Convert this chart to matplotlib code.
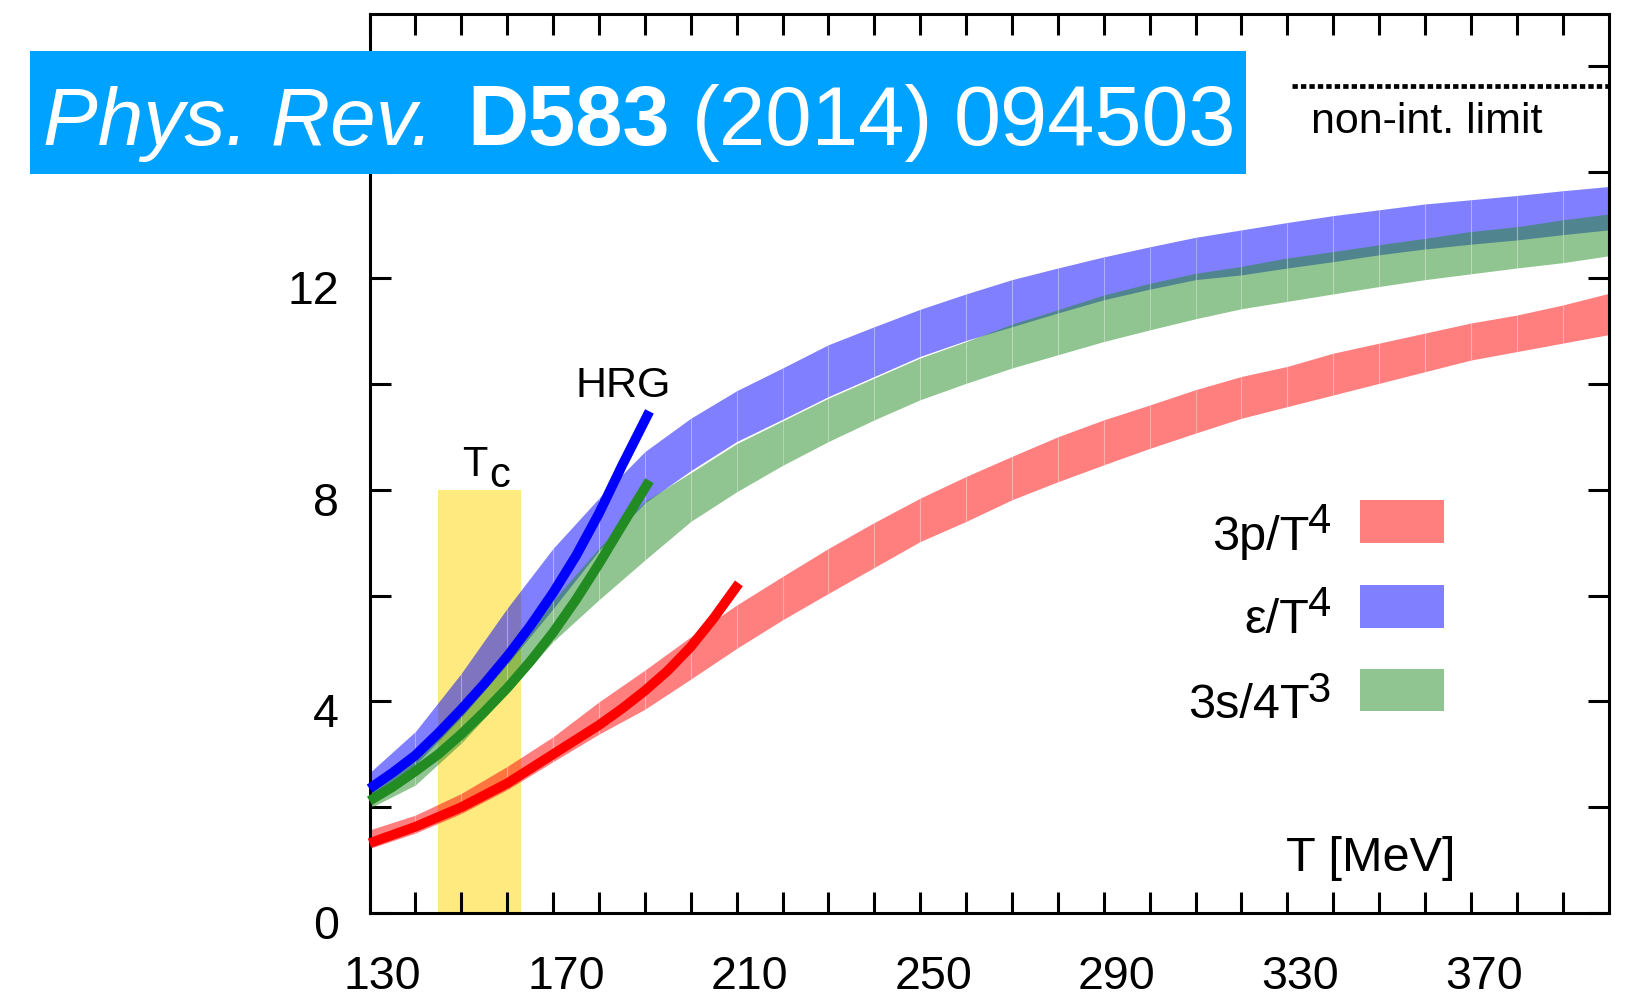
import numpy as np
import matplotlib
matplotlib.use('Agg')
import matplotlib.pyplot as plt
from matplotlib.patches import Rectangle
from matplotlib.transforms import ScaledTranslation

plt.rcParams['font.family'] = ['Liberation Sans', 'DejaVu Sans']

# lattice bands, T in MeV, lower/upper edge of each band
T = [130, 140, 150, 160, 170, 180, 190, 200, 210, 220, 230, 240, 250, 260,
     270, 280, 290, 300, 310, 320, 330, 340, 350, 360, 370, 380, 390, 400]
p3_lo = [1.22, 1.51, 1.88, 2.33, 2.86, 3.38, 3.85, 4.42, 5.00, 5.54, 6.04, 6.53, 7.02, 7.40,
         7.81, 8.15, 8.47, 8.78, 9.07, 9.35, 9.57, 9.79, 10.01, 10.23, 10.45, 10.61, 10.77, 10.93]
p3_hi = [1.57, 1.85, 2.26, 2.77, 3.33, 3.99, 4.59, 5.22, 5.82, 6.36, 6.89, 7.38, 7.84, 8.25,
         8.63, 9.00, 9.32, 9.60, 9.89, 10.14, 10.33, 10.58, 10.77, 10.96, 11.15, 11.30, 11.49, 11.71]
eps_lo = [2.15, 2.80, 3.70, 4.70, 5.75, 6.85, 7.75, 8.36, 8.91, 9.33, 9.76, 10.14, 10.52, 10.82,
          11.08, 11.34, 11.59, 11.79, 11.97, 12.06, 12.19, 12.31, 12.44, 12.55, 12.64, 12.72, 12.82, 12.91]
eps_hi = [2.65, 3.43, 4.53, 5.76, 6.89, 7.84, 8.72, 9.35, 9.87, 10.30, 10.74, 11.08, 11.41, 11.70,
          11.97, 12.19, 12.40, 12.59, 12.77, 12.91, 13.05, 13.18, 13.29, 13.40, 13.48, 13.56, 13.65, 13.73]
s_lo = [1.98, 2.42, 3.21, 4.15, 5.13, 5.92, 6.67, 7.40, 7.96, 8.46, 8.91, 9.32, 9.70, 10.01,
        10.30, 10.55, 10.80, 11.02, 11.23, 11.42, 11.56, 11.70, 11.84, 11.97, 12.08, 12.19, 12.29, 12.42]
s_hi = [2.32, 3.05, 3.95, 4.90, 5.90, 6.90, 7.78, 8.32, 8.87, 9.30, 9.73, 10.11, 10.49, 10.80,
        11.13, 11.40, 11.68, 11.90, 12.09, 12.22, 12.38, 12.50, 12.63, 12.75, 12.88, 12.97, 13.10, 13.21]

# hadron resonance gas curves
T_hrg = [130, 135, 140, 145, 150, 155, 160, 165, 170, 175, 180, 185, 191]
eps_hrg = [2.35, 2.65, 2.98, 3.40, 3.85, 4.33, 4.85, 5.42, 6.05, 6.75, 7.55, 8.45, 9.48]
s_hrg = [2.12, 2.38, 2.68, 3.00, 3.38, 3.80, 4.25, 4.75, 5.30, 5.92, 6.60, 7.32, 8.17]
T_hrg_p = [130, 140, 150, 160, 170, 180, 185, 190, 195, 200, 205, 210.5]
p3_hrg = [1.32, 1.63, 2.00, 2.45, 3.00, 3.55, 3.86, 4.20, 4.58, 5.03, 5.57, 6.23]

tc_lo, tc_hi, tc_top = 145, 163, 8.0
sb_limit = 15.63
sb_start = 331

xtick_vals = list(range(130, 400, 10))
xtick_labels = ['130', '', '', '', '170', '', '', '', '210', '', '', '', '250', '', '', '',
                '290', '', '', '', '330', '', '', '', '370', '', '']
ytick_vals = [0, 2, 4, 6, 8, 10, 12, 14, 16]
ytick_labels = ['0', '', '4', '', '8', '', '12', '', '']

W, H = 1625, 1000
fig = plt.figure(figsize=(W / 100, H / 100), dpi=100)
ax = fig.add_axes([369.5 / W, 1 - 913 / H, 1239 / W, 899.5 / H])
ax.set_xlim(130, 400)
ax.set_ylim(0, 17)

# Tc region
ax.fill_between([tc_lo, tc_hi], 0, tc_top, color='gold', alpha=0.5, lw=0, zorder=1)


def band(lo, hi, color):
    for i in range(len(T) - 1):
        ax.fill_between(T[i:i + 2], lo[i:i + 2], hi[i:i + 2], color=color,
                        alpha=0.5, lw=0, zorder=2)
    ax.vlines(T[1:-1], lo[1:-1], hi[1:-1], color='white', lw=0.8, alpha=0.3, zorder=2)


band(p3_lo, p3_hi, 'red')
band(eps_lo, eps_hi, 'blue')
band(s_lo, s_hi, 'forestgreen')

ax.plot(T_hrg_p, p3_hrg, color='red', lw=7, solid_capstyle='butt', zorder=3, clip_on=False)
ax.plot(T_hrg, eps_hrg, color='blue', lw=7, solid_capstyle='butt', zorder=3, clip_on=False)
ax.plot(T_hrg, s_hrg, color='forestgreen', lw=7, solid_capstyle='butt', zorder=3, clip_on=False)

# Stefan-Boltzmann value
ax.plot([sb_start, 400], [sb_limit, sb_limit], color='black', lw=3.4,
        ls=(0, (1.13, 0.66)), dash_capstyle='butt', zorder=3)
ax.text(360.4, 14.75, 'non-int. limit', fontsize=31, ha='center', va='baseline')

ax.text(185.4, 9.75, 'HRG', fontsize=31, ha='center', va='baseline')
ax.text(150.1, 8.25, 'T', fontsize=30, ha='left', va='baseline')
ax.text(156.0, 8.06, 'c', fontsize=30, ha='left', va='baseline')
ax.text(366.7, 0.80, 'T [MeV]', fontsize=35, ha='right', va='baseline')

# legend
leg_colors = ['red', 'blue', 'forestgreen']
leg_main = ['3p/T', 'ε/T', '3s/4T']
leg_sup = ['4', '4', '3']
leg_base = [6.86, 5.29, 3.68]
leg_box = [7.00, 5.39, 3.81]
for c, m, s, yb, yr in zip(leg_colors, leg_main, leg_sup, leg_base, leg_box):
    ax.text(334.8, yb, m, fontsize=35, ha='right', va='baseline')
    ax.text(334.5, yb + 0.316, s, fontsize=30, ha='left', va='baseline')
    ax.add_patch(Rectangle((345.8, yr), 18.3, 0.81, color=c, alpha=0.5, lw=0))

ax.set_xticks(xtick_vals)
ax.set_xticklabels(xtick_labels)
ax.set_yticks(ytick_vals)
ax.set_yticklabels(ytick_labels)
ax.tick_params(axis='both', direction='in', length=15, width=2.2, top=True, right=True,
               labelsize=33.5)
ax.tick_params(axis='x', pad=30)
ax.tick_params(axis='y', pad=22)
for sp in ax.spines.values():
    sp.set_linewidth(2.2)

for lab in ax.get_xticklabels():
    lab.set_transform(lab.get_transform() + ScaledTranslation(0.13, 0, fig.dpi_scale_trans))
for lab in ax.get_yticklabels():
    lab.set_transform(lab.get_transform() + ScaledTranslation(0, -0.09, fig.dpi_scale_trans))

# citation banner
fig.add_artist(Rectangle((30 / W, 1 - 174 / H), 1216 / W, 123 / H,
                         transform=fig.transFigure, color='#00a2ff', lw=0, zorder=5))
y_base = 1 - 145.5 / H
fig.text(43 / W, y_base, 'Phys. Rev.', fontsize=59, style='italic', color='white',
         va='baseline', zorder=6)
fig.text(467 / W, y_base, 'D583', fontsize=61, weight='bold', color='white',
         va='baseline', zorder=6)
fig.text(692 / W, y_base, '(2014)', fontsize=60, color='white', va='baseline', zorder=6)
fig.text(954 / W, y_base, '094503', fontsize=61, color='white', va='baseline', zorder=6)

fig.savefig('out.png', dpi=100)
